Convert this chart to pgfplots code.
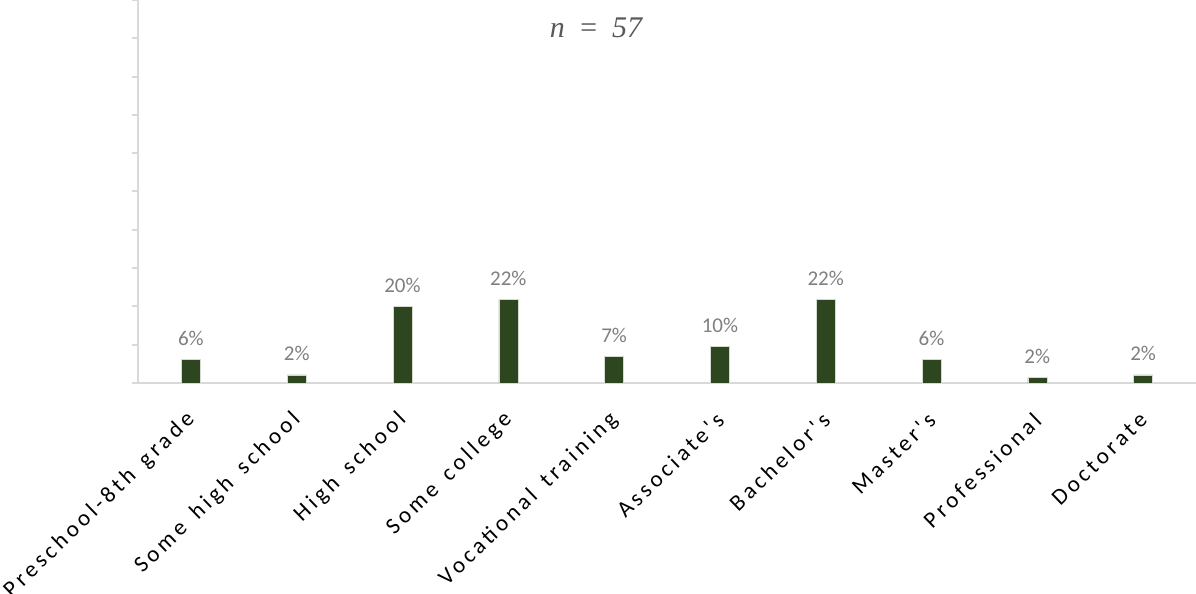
\documentclass[border=0pt]{standalone}
\usepackage{pgfplots}
\pgfplotsset{compat=1.18}
\usepackage{fontspec}
\setmainfont{Carlito}
\newfontfamily\spaced[LetterSpace=16, WordSpace=1.5]{Carlito}
\newfontfamily\timesit{Liberation Serif}
\definecolor{bargreen}{HTML}{2E4620}
\definecolor{axisgray}{HTML}{D9D9D9}
\definecolor{labelgray}{HTML}{7F7F7F}
\begin{document}
\begin{tikzpicture}
% 1 px of the reference = 0.5pt
\useasboundingbox (-69pt,-105.5pt) rectangle (529pt,191.5pt);
\begin{axis}[
    scale only axis,
    width=529pt, height=191.5pt,
    xmin=-0.5, xmax=9.5,
    ymin=0, ymax=100,
    axis x line=bottom,
    axis y line=left,
    axis line style={axisgray, line width=1pt, -},
    xtick=data,
    xticklabels={Preschool-8th grade, Some high school, High school, Some college,
        Vocational training, Associate's, Bachelor's, Master's, Professional, Doctorate},
    xticklabel style={yshift=-13pt, xshift=1pt, rotate=44, anchor=east, inner sep=1pt,
        font=\spaced\fontsize{11.5}{13}\selectfont},
    x tick style={draw=none},
    ytick={0,10,...,100},
    yticklabels={},
    y tick style={axisgray, line width=1pt},
    tick align=outside,
    major tick length=3pt,
    ybar,
    bar width=9.5pt,
    point meta=explicit symbolic,
    nodes near coords,
    every node near coord/.append style={labelgray, font=\fontsize{10.5}{12}\selectfont, yshift=3.5pt},
    clip=false,
]
\addplot[fill=bargreen, draw=white!80!bargreen, line width=0.3pt] coordinates {
    (0,6.2) [6\%]
    (1,2.1) [2\%]
    (2,20.0) [20\%]
    (3,21.8) [22\%]
    (4,7.0) [7\%]
    (5,9.6) [10\%]
    (6,21.8) [22\%]
    (7,6.2) [6\%]
    (8,1.5) [2\%]
    (9,2.1) [2\%]
};
\node[text=black!65] at (rel axis cs:0.433,0.927)
    {\timesit\fontsize{15}{17}\selectfont\itshape n\hspace{0.45em}=\hspace{0.45em}57};
\end{axis}
\end{tikzpicture}
\end{document}
